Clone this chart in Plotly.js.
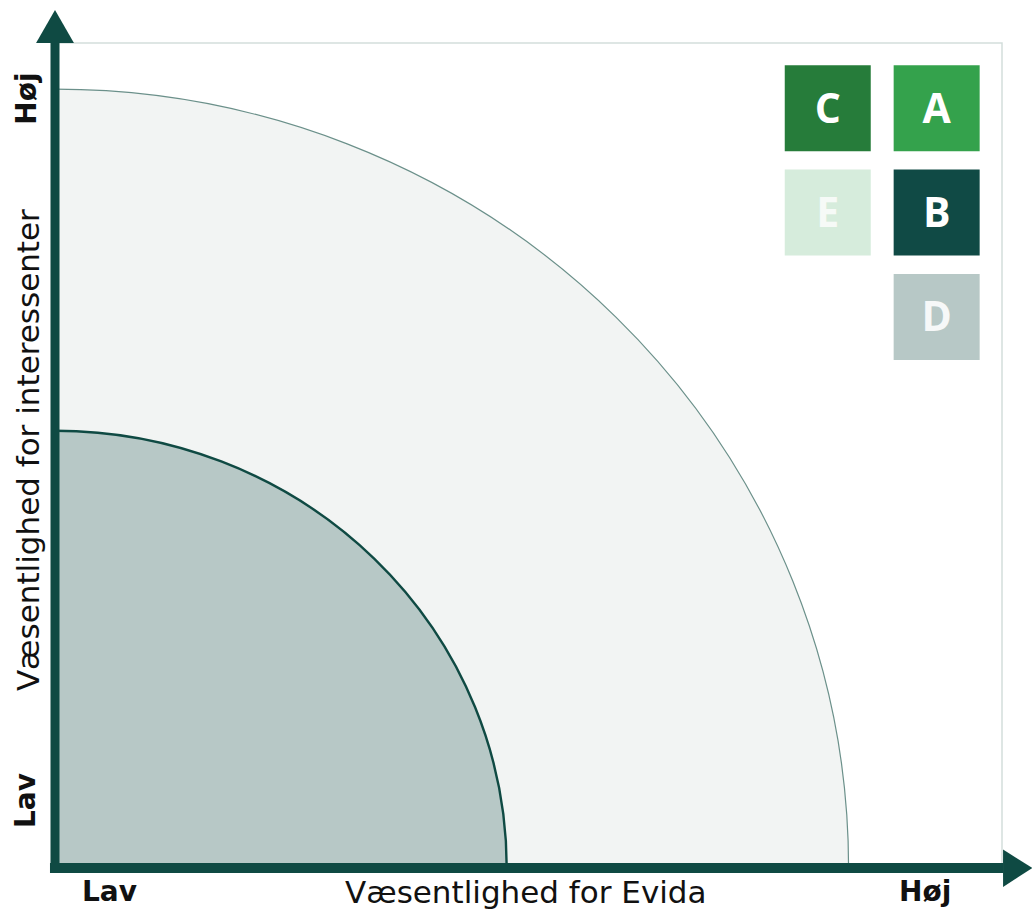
<!DOCTYPE html>
<html>
<head>
<meta charset="utf-8">
<script src="https://cdn.plot.ly/plotly-3.0.1.min.js"></script>
<style>html,body{margin:0;padding:0;background:#fff;}#chart{width:1032px;height:913px;}</style>
</head>
<body>
<div id="chart"></div>
<script>
// ---- data ----
var zoneNames = ['Ydre zone', 'Indre zone'];
var zoneRadiusX = [83.8, 47.7];   // along "Væsentlighed for Evida"
var zoneRadiusY = [94.4, 53.0];   // along "Væsentlighed for interessenter"
var zoneFill = ['#F2F4F3', '#B7C8C6'];
var zoneLine = ['#6B908A', '#0F4A43'];

var keyLabels = ['C', 'A', 'E', 'B', 'D'];
var keyColumn = [0, 1, 0, 1, 1];
var keyRow = [0, 0, 1, 1, 2];
var keyColors = ['#267C3A', '#34A24C', '#D6ECDC', '#104A45', '#B7C8C6'];
var keyTextColors = ['#FFFFFF', '#FFFFFF', '#F6FAF7', '#FFFFFF', '#F6F8F8'];

var xTitle = 'Væsentlighed for Evida';
var yTitle = 'Væsentlighed for interessenter';
var lowLabel = 'Lav';
var highLabel = 'Høj';

// ---- layout helpers ----
var keyX0 = 81.6, keyDX = 11.5, keyY0 = 92.1, keyDY = 12.65, keyTextShift = 0.5;
var axisColor = '#0F4A43';

var shapes = [];
for (var i = 0; i < zoneNames.length; i++) {
  shapes.push({
    type: 'circle', xref: 'x', yref: 'y', layer: 'below',
    x0: -zoneRadiusX[i], x1: zoneRadiusX[i], y0: -zoneRadiusY[i], y1: zoneRadiusY[i],
    fillcolor: zoneFill[i], line: {color: zoneLine[i], width: i === 0 ? 1.2 : 2.4}
  });
}
// frame
shapes.push({type: 'rect', xref: 'paper', yref: 'paper', x0: 0, x1: 1, y0: 0, y1: 1,
  line: {color: '#D3DEDB', width: 1.5}, fillcolor: 'rgba(0,0,0,0)', layer: 'above'});
// axis lines with arrow heads
shapes.push({type: 'line', xref: 'paper', yref: 'paper', x0: 0, x1: 0, y0: -0.006, y1: 1.0,
  line: {color: axisColor, width: 9}});
shapes.push({type: 'line', xref: 'paper', yref: 'paper', x0: -0.0053, x1: 1.0015, y0: 0, y1: 0,
  line: {color: axisColor, width: 10}});
shapes.push({type: 'path', xref: 'paper', yref: 'paper',
  path: 'M -0.020 1.0 L 0.020 1.0 L 0 1.040 Z', fillcolor: axisColor, line: {width: 0}});
shapes.push({type: 'path', xref: 'paper', yref: 'paper',
  path: 'M 1.0011 0.0225 L 1.0011 -0.0230 L 1.032 0 Z', fillcolor: axisColor, line: {width: 0}});

var keyXs = keyColumn.map(function (c) { return keyX0 + c * keyDX; });
var keyYs = keyRow.map(function (r) { return keyY0 - r * keyDY; });

var keyMarkers = {
  type: 'scatter', mode: 'markers', hoverinfo: 'skip', showlegend: false,
  x: keyXs, y: keyYs,
  marker: {symbol: 'square', size: 86, color: keyColors, line: {width: 0}},
  cliponaxis: false
};
var keyText = {
  type: 'scatter', mode: 'text', hoverinfo: 'skip', showlegend: false,
  x: keyXs, y: keyYs.map(function (v) { return v - keyTextShift; }),
  text: keyLabels,
  textposition: 'middle center',
  textfont: {family: 'Open Sans, sans-serif', size: 41, color: keyTextColors, weight: 700},
  cliponaxis: false
};

var txtFont = {family: 'DejaVu Sans, sans-serif', size: 31, color: '#111111'};
var boldFont = {family: 'DejaVu Sans, sans-serif', size: 28, color: '#111111', weight: 700};
var annotations = [
  {xref: 'paper', yref: 'paper', x: 0.497, y: -0.029, text: xTitle, showarrow: false, font: txtFont, xanchor: 'center', yanchor: 'middle'},
  {xref: 'paper', yref: 'paper', x: 0.058, y: -0.029, text: '<b>' + lowLabel + '</b>', showarrow: false, font: boldFont, xanchor: 'center', yanchor: 'middle'},
  {xref: 'paper', yref: 'paper', x: 0.919, y: -0.029, text: '<b>' + highLabel + '</b>', showarrow: false, font: boldFont, xanchor: 'center', yanchor: 'middle'},
  {xref: 'paper', yref: 'paper', x: -0.029, y: 0.506, text: yTitle, showarrow: false, font: txtFont, textangle: -90, xanchor: 'center', yanchor: 'middle'},
  {xref: 'paper', yref: 'paper', x: -0.031, y: 0.082, text: '<b>' + lowLabel + '</b>', showarrow: false, font: boldFont, textangle: -90, xanchor: 'center', yanchor: 'middle'},
  {xref: 'paper', yref: 'paper', x: -0.031, y: 0.932, text: '<b>' + highLabel + '</b>', showarrow: false, font: boldFont, textangle: -90, xanchor: 'center', yanchor: 'middle'}
];

var layout = {
  width: 1032, height: 913,
  margin: {l: 55, r: 30, t: 43, b: 45, pad: 0},
  paper_bgcolor: '#FFFFFF', plot_bgcolor: '#FFFFFF',
  xaxis: {range: [0, 100], showgrid: false, zeroline: false, showticklabels: false, ticks: '', showline: false, fixedrange: true},
  yaxis: {range: [0, 100], showgrid: false, zeroline: false, showticklabels: false, ticks: '', showline: false, fixedrange: true},
  shapes: shapes,
  annotations: annotations,
  showlegend: false
};

Plotly.newPlot('chart', [keyMarkers, keyText], layout, {displayModeBar: false, staticPlot: true});
</script>
</body>
</html>
